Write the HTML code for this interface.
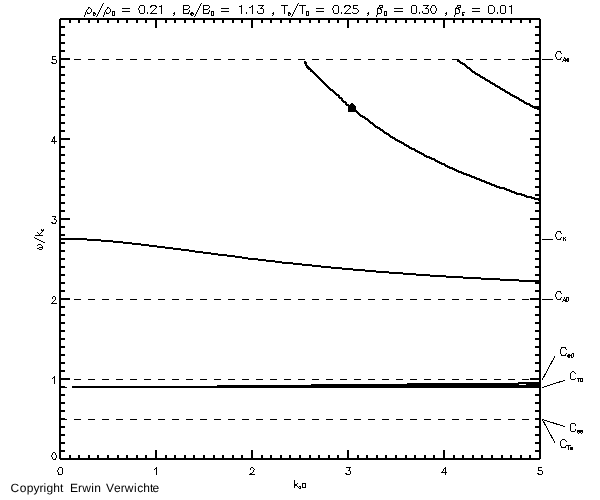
<!DOCTYPE html>
<html><head><meta charset="utf-8"><title>dispersion diagram</title>
<style>html,body{margin:0;padding:0;background:#fff;}body{width:600px;height:500px;overflow:hidden;font-family:"Liberation Sans",sans-serif;}svg{display:block;}</style></head>
<body>
<svg width="600" height="500" viewBox="0 0 600 500" shape-rendering="crispEdges">
<rect x="0" y="0" width="600" height="500" fill="#fff"/>
<g stroke="#000" stroke-width="2" fill="none" stroke-linecap="butt">
<rect x="60" y="19" width="480" height="440"/>
<line x1="60" y1="459" x2="60" y2="450"/>
<line x1="60" y1="19" x2="60" y2="28"/>
<line x1="70" y1="459" x2="70" y2="455"/>
<line x1="70" y1="19" x2="70" y2="23"/>
<line x1="79" y1="459" x2="79" y2="455"/>
<line x1="79" y1="19" x2="79" y2="23"/>
<line x1="89" y1="459" x2="89" y2="455"/>
<line x1="89" y1="19" x2="89" y2="23"/>
<line x1="98" y1="459" x2="98" y2="455"/>
<line x1="98" y1="19" x2="98" y2="23"/>
<line x1="108" y1="459" x2="108" y2="455"/>
<line x1="108" y1="19" x2="108" y2="23"/>
<line x1="118" y1="459" x2="118" y2="455"/>
<line x1="118" y1="19" x2="118" y2="23"/>
<line x1="127" y1="459" x2="127" y2="455"/>
<line x1="127" y1="19" x2="127" y2="23"/>
<line x1="137" y1="459" x2="137" y2="455"/>
<line x1="137" y1="19" x2="137" y2="23"/>
<line x1="146" y1="459" x2="146" y2="455"/>
<line x1="146" y1="19" x2="146" y2="23"/>
<line x1="156" y1="459" x2="156" y2="450"/>
<line x1="156" y1="19" x2="156" y2="28"/>
<line x1="166" y1="459" x2="166" y2="455"/>
<line x1="166" y1="19" x2="166" y2="23"/>
<line x1="175" y1="459" x2="175" y2="455"/>
<line x1="175" y1="19" x2="175" y2="23"/>
<line x1="185" y1="459" x2="185" y2="455"/>
<line x1="185" y1="19" x2="185" y2="23"/>
<line x1="194" y1="459" x2="194" y2="455"/>
<line x1="194" y1="19" x2="194" y2="23"/>
<line x1="204" y1="459" x2="204" y2="455"/>
<line x1="204" y1="19" x2="204" y2="23"/>
<line x1="214" y1="459" x2="214" y2="455"/>
<line x1="214" y1="19" x2="214" y2="23"/>
<line x1="223" y1="459" x2="223" y2="455"/>
<line x1="223" y1="19" x2="223" y2="23"/>
<line x1="233" y1="459" x2="233" y2="455"/>
<line x1="233" y1="19" x2="233" y2="23"/>
<line x1="242" y1="459" x2="242" y2="455"/>
<line x1="242" y1="19" x2="242" y2="23"/>
<line x1="252" y1="459" x2="252" y2="450"/>
<line x1="252" y1="19" x2="252" y2="28"/>
<line x1="262" y1="459" x2="262" y2="455"/>
<line x1="262" y1="19" x2="262" y2="23"/>
<line x1="271" y1="459" x2="271" y2="455"/>
<line x1="271" y1="19" x2="271" y2="23"/>
<line x1="281" y1="459" x2="281" y2="455"/>
<line x1="281" y1="19" x2="281" y2="23"/>
<line x1="290" y1="459" x2="290" y2="455"/>
<line x1="290" y1="19" x2="290" y2="23"/>
<line x1="300" y1="459" x2="300" y2="455"/>
<line x1="300" y1="19" x2="300" y2="23"/>
<line x1="310" y1="459" x2="310" y2="455"/>
<line x1="310" y1="19" x2="310" y2="23"/>
<line x1="319" y1="459" x2="319" y2="455"/>
<line x1="319" y1="19" x2="319" y2="23"/>
<line x1="329" y1="459" x2="329" y2="455"/>
<line x1="329" y1="19" x2="329" y2="23"/>
<line x1="338" y1="459" x2="338" y2="455"/>
<line x1="338" y1="19" x2="338" y2="23"/>
<line x1="348" y1="459" x2="348" y2="450"/>
<line x1="348" y1="19" x2="348" y2="28"/>
<line x1="358" y1="459" x2="358" y2="455"/>
<line x1="358" y1="19" x2="358" y2="23"/>
<line x1="367" y1="459" x2="367" y2="455"/>
<line x1="367" y1="19" x2="367" y2="23"/>
<line x1="377" y1="459" x2="377" y2="455"/>
<line x1="377" y1="19" x2="377" y2="23"/>
<line x1="386" y1="459" x2="386" y2="455"/>
<line x1="386" y1="19" x2="386" y2="23"/>
<line x1="396" y1="459" x2="396" y2="455"/>
<line x1="396" y1="19" x2="396" y2="23"/>
<line x1="406" y1="459" x2="406" y2="455"/>
<line x1="406" y1="19" x2="406" y2="23"/>
<line x1="415" y1="459" x2="415" y2="455"/>
<line x1="415" y1="19" x2="415" y2="23"/>
<line x1="425" y1="459" x2="425" y2="455"/>
<line x1="425" y1="19" x2="425" y2="23"/>
<line x1="434" y1="459" x2="434" y2="455"/>
<line x1="434" y1="19" x2="434" y2="23"/>
<line x1="444" y1="459" x2="444" y2="450"/>
<line x1="444" y1="19" x2="444" y2="28"/>
<line x1="454" y1="459" x2="454" y2="455"/>
<line x1="454" y1="19" x2="454" y2="23"/>
<line x1="463" y1="459" x2="463" y2="455"/>
<line x1="463" y1="19" x2="463" y2="23"/>
<line x1="473" y1="459" x2="473" y2="455"/>
<line x1="473" y1="19" x2="473" y2="23"/>
<line x1="482" y1="459" x2="482" y2="455"/>
<line x1="482" y1="19" x2="482" y2="23"/>
<line x1="492" y1="459" x2="492" y2="455"/>
<line x1="492" y1="19" x2="492" y2="23"/>
<line x1="502" y1="459" x2="502" y2="455"/>
<line x1="502" y1="19" x2="502" y2="23"/>
<line x1="511" y1="459" x2="511" y2="455"/>
<line x1="511" y1="19" x2="511" y2="23"/>
<line x1="521" y1="459" x2="521" y2="455"/>
<line x1="521" y1="19" x2="521" y2="23"/>
<line x1="530" y1="459" x2="530" y2="455"/>
<line x1="530" y1="19" x2="530" y2="23"/>
<line x1="540" y1="459" x2="540" y2="450"/>
<line x1="540" y1="19" x2="540" y2="28"/>
<line x1="60" y1="459" x2="70" y2="459"/>
<line x1="540" y1="459" x2="530" y2="459"/>
<line x1="60" y1="451" x2="65" y2="451"/>
<line x1="540" y1="451" x2="535" y2="451"/>
<line x1="60" y1="443" x2="65" y2="443"/>
<line x1="540" y1="443" x2="535" y2="443"/>
<line x1="60" y1="435" x2="65" y2="435"/>
<line x1="540" y1="435" x2="535" y2="435"/>
<line x1="60" y1="427" x2="65" y2="427"/>
<line x1="540" y1="427" x2="535" y2="427"/>
<line x1="60" y1="419" x2="65" y2="419"/>
<line x1="540" y1="419" x2="535" y2="419"/>
<line x1="60" y1="411" x2="65" y2="411"/>
<line x1="540" y1="411" x2="535" y2="411"/>
<line x1="60" y1="403" x2="65" y2="403"/>
<line x1="540" y1="403" x2="535" y2="403"/>
<line x1="60" y1="395" x2="65" y2="395"/>
<line x1="540" y1="395" x2="535" y2="395"/>
<line x1="60" y1="387" x2="65" y2="387"/>
<line x1="540" y1="387" x2="535" y2="387"/>
<line x1="60" y1="379" x2="70" y2="379"/>
<line x1="540" y1="379" x2="530" y2="379"/>
<line x1="60" y1="371" x2="65" y2="371"/>
<line x1="540" y1="371" x2="535" y2="371"/>
<line x1="60" y1="363" x2="65" y2="363"/>
<line x1="540" y1="363" x2="535" y2="363"/>
<line x1="60" y1="355" x2="65" y2="355"/>
<line x1="540" y1="355" x2="535" y2="355"/>
<line x1="60" y1="347" x2="65" y2="347"/>
<line x1="540" y1="347" x2="535" y2="347"/>
<line x1="60" y1="339" x2="65" y2="339"/>
<line x1="540" y1="339" x2="535" y2="339"/>
<line x1="60" y1="331" x2="65" y2="331"/>
<line x1="540" y1="331" x2="535" y2="331"/>
<line x1="60" y1="323" x2="65" y2="323"/>
<line x1="540" y1="323" x2="535" y2="323"/>
<line x1="60" y1="315" x2="65" y2="315"/>
<line x1="540" y1="315" x2="535" y2="315"/>
<line x1="60" y1="307" x2="65" y2="307"/>
<line x1="540" y1="307" x2="535" y2="307"/>
<line x1="60" y1="299" x2="70" y2="299"/>
<line x1="540" y1="299" x2="530" y2="299"/>
<line x1="60" y1="291" x2="65" y2="291"/>
<line x1="540" y1="291" x2="535" y2="291"/>
<line x1="60" y1="283" x2="65" y2="283"/>
<line x1="540" y1="283" x2="535" y2="283"/>
<line x1="60" y1="275" x2="65" y2="275"/>
<line x1="540" y1="275" x2="535" y2="275"/>
<line x1="60" y1="267" x2="65" y2="267"/>
<line x1="540" y1="267" x2="535" y2="267"/>
<line x1="60" y1="259" x2="65" y2="259"/>
<line x1="540" y1="259" x2="535" y2="259"/>
<line x1="60" y1="251" x2="65" y2="251"/>
<line x1="540" y1="251" x2="535" y2="251"/>
<line x1="60" y1="243" x2="65" y2="243"/>
<line x1="540" y1="243" x2="535" y2="243"/>
<line x1="60" y1="235" x2="65" y2="235"/>
<line x1="540" y1="235" x2="535" y2="235"/>
<line x1="60" y1="227" x2="65" y2="227"/>
<line x1="540" y1="227" x2="535" y2="227"/>
<line x1="60" y1="219" x2="70" y2="219"/>
<line x1="540" y1="219" x2="530" y2="219"/>
<line x1="60" y1="211" x2="65" y2="211"/>
<line x1="540" y1="211" x2="535" y2="211"/>
<line x1="60" y1="203" x2="65" y2="203"/>
<line x1="540" y1="203" x2="535" y2="203"/>
<line x1="60" y1="195" x2="65" y2="195"/>
<line x1="540" y1="195" x2="535" y2="195"/>
<line x1="60" y1="187" x2="65" y2="187"/>
<line x1="540" y1="187" x2="535" y2="187"/>
<line x1="60" y1="179" x2="65" y2="179"/>
<line x1="540" y1="179" x2="535" y2="179"/>
<line x1="60" y1="171" x2="65" y2="171"/>
<line x1="540" y1="171" x2="535" y2="171"/>
<line x1="60" y1="163" x2="65" y2="163"/>
<line x1="540" y1="163" x2="535" y2="163"/>
<line x1="60" y1="155" x2="65" y2="155"/>
<line x1="540" y1="155" x2="535" y2="155"/>
<line x1="60" y1="147" x2="65" y2="147"/>
<line x1="540" y1="147" x2="535" y2="147"/>
<line x1="60" y1="139" x2="70" y2="139"/>
<line x1="540" y1="139" x2="530" y2="139"/>
<line x1="60" y1="131" x2="65" y2="131"/>
<line x1="540" y1="131" x2="535" y2="131"/>
<line x1="60" y1="123" x2="65" y2="123"/>
<line x1="540" y1="123" x2="535" y2="123"/>
<line x1="60" y1="115" x2="65" y2="115"/>
<line x1="540" y1="115" x2="535" y2="115"/>
<line x1="60" y1="107" x2="65" y2="107"/>
<line x1="540" y1="107" x2="535" y2="107"/>
<line x1="60" y1="99" x2="65" y2="99"/>
<line x1="540" y1="99" x2="535" y2="99"/>
<line x1="60" y1="91" x2="65" y2="91"/>
<line x1="540" y1="91" x2="535" y2="91"/>
<line x1="60" y1="83" x2="65" y2="83"/>
<line x1="540" y1="83" x2="535" y2="83"/>
<line x1="60" y1="75" x2="65" y2="75"/>
<line x1="540" y1="75" x2="535" y2="75"/>
<line x1="60" y1="67" x2="65" y2="67"/>
<line x1="540" y1="67" x2="535" y2="67"/>
<line x1="60" y1="59" x2="70" y2="59"/>
<line x1="540" y1="59" x2="530" y2="59"/>
<line x1="60" y1="51" x2="65" y2="51"/>
<line x1="540" y1="51" x2="535" y2="51"/>
<line x1="60" y1="43" x2="65" y2="43"/>
<line x1="540" y1="43" x2="535" y2="43"/>
<line x1="60" y1="35" x2="65" y2="35"/>
<line x1="540" y1="35" x2="535" y2="35"/>
<line x1="60" y1="27" x2="65" y2="27"/>
<line x1="540" y1="27" x2="535" y2="27"/>
</g>
<g stroke="#000" stroke-width="1" fill="none" stroke-dasharray="7 7">
<line x1="60" y1="59.5" x2="540" y2="59.5"/>
<line x1="60" y1="299.5" x2="540" y2="299.5"/>
<line x1="60" y1="379.5" x2="540" y2="379.5"/>
<line x1="60" y1="419.5" x2="540" y2="419.5"/>
</g>
<path fill="#000" stroke="none" d="M457 59h2v1h-2zM457 60h3v1h-3zM304 61h2v1h-2zM457 61h4v1h-4zM304 62h3v1h-3zM459 62h4v1h-4zM304 63h3v1h-3zM460 63h5v1h-5zM305 64h2v1h-2zM462 64h4v1h-4zM305 65h3v1h-3zM464 65h3v1h-3zM306 66h3v1h-3zM465 66h3v1h-3zM306 67h4v1h-4zM466 67h4v1h-4zM307 68h4v1h-4zM467 68h4v1h-4zM308 69h4v1h-4zM469 69h3v1h-3zM310 70h3v1h-3zM470 70h3v1h-3zM310 71h4v1h-4zM471 71h4v1h-4zM312 72h3v1h-3zM472 72h4v1h-4zM313 73h3v1h-3zM474 73h4v1h-4zM314 74h3v1h-3zM475 74h5v1h-5zM315 75h3v1h-3zM477 75h4v1h-4zM316 76h3v1h-3zM479 76h4v1h-4zM317 77h3v1h-3zM480 77h5v1h-5zM318 78h3v1h-3zM482 78h4v1h-4zM319 79h3v1h-3zM484 79h4v1h-4zM320 80h3v1h-3zM485 80h5v1h-5zM321 81h3v1h-3zM487 81h4v1h-4zM322 82h3v1h-3zM489 82h4v1h-4zM323 83h3v1h-3zM490 83h5v1h-5zM324 84h3v1h-3zM492 84h4v1h-4zM325 85h3v1h-3zM494 85h4v1h-4zM326 86h3v1h-3zM495 86h5v1h-5zM327 87h3v1h-3zM497 87h4v1h-4zM328 88h3v1h-3zM499 88h4v1h-4zM329 89h4v1h-4zM500 89h5v1h-5zM330 90h4v1h-4zM502 90h4v1h-4zM332 91h3v1h-3zM504 91h4v1h-4zM333 92h3v1h-3zM505 92h5v1h-5zM334 93h3v1h-3zM507 93h4v1h-4zM335 94h4v1h-4zM509 94h4v1h-4zM336 95h4v1h-4zM510 95h5v1h-5zM338 96h2v1h-2zM512 96h5v1h-5zM338 97h4v1h-4zM514 97h5v1h-5zM339 98h4v1h-4zM516 98h4v1h-4zM341 99h2v1h-2zM518 99h4v1h-4zM341 100h3v1h-3zM519 100h5v1h-5zM342 101h4v1h-4zM521 101h4v1h-4zM343 102h4v1h-4zM523 102h4v1h-4zM345 103h2v1h-2zM524 103h6v1h-6zM345 104h4v1h-4zM526 104h5v1h-5zM346 105h4v1h-4zM529 105h4v1h-4zM348 106h3v1h-3zM530 106h5v1h-5zM349 107h3v1h-3zM532 107h6v1h-6zM350 108h4v1h-4zM534 108h7v1h-7zM351 109h4v1h-4zM537 109h4v1h-4zM353 110h4v1h-4zM354 111h4v1h-4zM356 112h3v1h-3zM357 113h3v1h-3zM358 114h3v1h-3zM359 115h4v1h-4zM360 116h5v1h-5zM362 117h4v1h-4zM364 118h4v1h-4zM365 119h4v1h-4zM367 120h3v1h-3zM368 121h3v1h-3zM369 122h4v1h-4zM370 123h4v1h-4zM372 124h3v1h-3zM373 125h3v1h-3zM374 126h4v1h-4zM375 127h5v1h-5zM377 128h4v1h-4zM379 129h4v1h-4zM380 130h4v1h-4zM382 131h3v1h-3zM383 132h4v1h-4zM384 133h5v1h-5zM386 134h4v1h-4zM388 135h3v1h-3zM389 136h4v1h-4zM390 137h5v1h-5zM392 138h4v1h-4zM394 139h4v1h-4zM395 140h5v1h-5zM397 141h5v1h-5zM399 142h5v1h-5zM401 143h4v1h-4zM403 144h4v1h-4zM404 145h5v1h-5zM406 146h4v1h-4zM408 147h4v1h-4zM409 148h6v1h-6zM411 149h5v1h-5zM414 150h4v1h-4zM415 151h5v1h-5zM417 152h5v1h-5zM419 153h5v1h-5zM421 154h4v1h-4zM423 155h4v1h-4zM424 156h6v1h-6zM426 157h6v1h-6zM429 158h6v1h-6zM431 159h5v1h-5zM434 160h4v1h-4zM435 161h5v1h-5zM437 162h5v1h-5zM439 163h6v1h-6zM441 164h5v1h-5zM444 165h4v1h-4zM445 166h5v1h-5zM447 167h6v1h-6zM449 168h6v1h-6zM452 169h5v1h-5zM454 170h5v1h-5zM456 171h6v1h-6zM458 172h6v1h-6zM461 173h6v1h-6zM463 174h7v1h-7zM466 175h6v1h-6zM469 176h6v1h-6zM471 177h6v1h-6zM474 178h6v1h-6zM476 179h6v1h-6zM479 180h6v1h-6zM481 181h6v1h-6zM484 182h6v1h-6zM486 183h6v1h-6zM489 184h6v1h-6zM491 185h6v1h-6zM494 186h6v1h-6zM496 187h9v1h-9zM499 188h8v1h-8zM504 189h6v1h-6zM506 190h6v1h-6zM509 191h6v1h-6zM511 192h6v1h-6zM514 193h8v1h-8zM516 194h9v1h-9zM521 195h6v1h-6zM524 196h8v1h-8zM526 197h9v1h-9zM531 198h8v1h-8zM534 199h7v1h-7zM538 200h3v1h-3zM59 238h28v1h-28zM59 239h42v1h-42zM87 240h26v1h-26zM101 241h22v1h-22zM113 242h19v1h-19zM123 243h18v1h-18zM132 244h17v1h-17zM141 245h16v1h-16zM149 246h16v1h-16zM157 247h16v1h-16zM165 248h16v1h-16zM173 249h16v1h-16zM181 250h14v1h-14zM189 251h14v1h-14zM195 252h16v1h-16zM203 253h15v1h-15zM211 254h16v1h-16zM218 255h17v1h-17zM227 256h15v1h-15zM235 257h13v1h-13zM242 258h16v1h-16zM248 259h18v1h-18zM258 260h17v1h-17zM266 261h16v1h-16zM275 262h18v1h-18zM282 263h20v1h-20zM293 264h19v1h-19zM302 265h19v1h-19zM312 266h19v1h-19zM321 267h21v1h-21zM331 268h22v1h-22zM342 269h23v1h-23zM353 270h23v1h-23zM365 271h24v1h-24zM376 272h27v1h-27zM389 273h27v1h-27zM403 274h27v1h-27zM416 275h30v1h-30zM430 276h33v1h-33zM446 277h35v1h-35zM463 278h37v1h-37zM481 279h38v1h-38zM500 280h41v1h-41zM519 281h22v1h-22z"/>
<g fill="#000" stroke="none">
<rect x="72" y="386" width="468" height="2"/>
<rect x="217" y="385" width="323" height="1"/>
<rect x="311" y="384" width="229" height="1"/>
<rect x="407" y="383" width="133" height="1"/>
<rect x="518" y="382" width="22" height="1"/>
<rect x="65" y="387" width="2" height="1"/>
<polygon points="348,112 348,107 351,103.6 352,103 353,103 356,106.4 356,112"/>
</g>
<rect x="519" y="384" width="7" height="1" fill="#fff"/>
<rect x="59" y="18" width="1" height="1" fill="#fff"/>
<rect x="540" y="459" width="1" height="1" fill="#fff"/>
<rect x="540" y="18" width="1" height="1" fill="#fff"/>
<rect x="59" y="459" width="1" height="1" fill="#fff"/>
<g stroke="#000" stroke-width="1" fill="none">
<line x1="542" y1="59.5" x2="553" y2="59.5"/>
<line x1="542" y1="239.5" x2="553" y2="239.5"/>
<line x1="542" y1="299.5" x2="553" y2="299.5"/>
<line x1="542.3" y1="379.6" x2="555" y2="356"/>
<line x1="542.3" y1="387.5" x2="565.2" y2="380.2"/>
<line x1="542.3" y1="419.4" x2="565.2" y2="426.8"/>
<line x1="542.3" y1="419.4" x2="555" y2="443"/>
</g>
<path fill="#000" stroke="none" d="M103 3h1v1h-1zM201 3h1v1h-1zM298 3h1v1h-1zM102 4h1v1h-1zM200 4h1v1h-1zM297 4h1v1h-1zM102 5h1v1h-1zM140 5h4v1h-4zM151 5h5v1h-5zM161 5h1v1h-1zM183 5h6v1h-6zM200 5h1v1h-1zM203 5h6v1h-6zM241 5h1v1h-1zM252 5h1v1h-1zM258 5h6v1h-6zM281 5h7v1h-7zM297 5h1v1h-1zM299 5h7v1h-7zM334 5h4v1h-4zM345 5h5v1h-5zM353 5h5v1h-5zM379 5h4v1h-4zM412 5h4v1h-4zM423 5h6v1h-6zM432 5h3v1h-3zM457 5h4v1h-4zM489 5h4v1h-4zM501 5h4v1h-4zM511 5h1v1h-1zM101 6h1v1h-1zM139 6h1v1h-1zM144 6h1v1h-1zM150 6h2v1h-2zM155 6h2v1h-2zM159 6h3v1h-3zM183 6h1v1h-1zM189 6h1v1h-1zM199 6h1v1h-1zM203 6h1v1h-1zM209 6h1v1h-1zM239 6h3v1h-3zM251 6h2v1h-2zM262 6h1v1h-1zM284 6h1v1h-1zM296 6h1v1h-1zM302 6h1v1h-1zM333 6h1v1h-1zM338 6h1v1h-1zM344 6h2v1h-2zM349 6h2v1h-2zM353 6h1v1h-1zM379 6h1v1h-1zM382 6h1v1h-1zM411 6h1v1h-1zM416 6h1v1h-1zM427 6h1v1h-1zM431 6h1v1h-1zM435 6h1v1h-1zM457 6h1v1h-1zM460 6h1v1h-1zM488 6h1v1h-1zM493 6h1v1h-1zM500 6h1v1h-1zM505 6h1v1h-1zM509 6h3v1h-3zM88 7h2v1h-2zM101 7h1v1h-1zM107 7h2v1h-2zM139 7h1v1h-1zM144 7h1v1h-1zM150 7h1v1h-1zM156 7h1v1h-1zM161 7h1v1h-1zM183 7h1v1h-1zM189 7h1v1h-1zM199 7h1v1h-1zM203 7h1v1h-1zM209 7h1v1h-1zM241 7h1v1h-1zM249 7h2v1h-2zM252 7h1v1h-1zM261 7h1v1h-1zM284 7h1v1h-1zM296 7h1v1h-1zM302 7h1v1h-1zM333 7h1v1h-1zM338 7h1v1h-1zM344 7h1v1h-1zM350 7h1v1h-1zM353 7h1v1h-1zM378 7h1v1h-1zM380 7h3v1h-3zM411 7h1v1h-1zM416 7h1v1h-1zM426 7h1v1h-1zM431 7h1v1h-1zM435 7h1v1h-1zM456 7h1v1h-1zM458 7h3v1h-3zM488 7h1v1h-1zM494 7h1v1h-1zM500 7h1v1h-1zM505 7h1v1h-1zM511 7h1v1h-1zM88 8h1v1h-1zM90 8h1v1h-1zM100 8h1v1h-1zM107 8h1v1h-1zM109 8h1v1h-1zM122 8h8v1h-8zM138 8h1v1h-1zM144 8h1v1h-1zM155 8h1v1h-1zM161 8h1v1h-1zM183 8h1v1h-1zM188 8h1v1h-1zM198 8h1v1h-1zM203 8h1v1h-1zM208 8h1v1h-1zM221 8h8v1h-8zM241 8h1v1h-1zM252 8h1v1h-1zM260 8h3v1h-3zM284 8h1v1h-1zM295 8h1v1h-1zM302 8h1v1h-1zM316 8h8v1h-8zM332 8h1v1h-1zM338 8h1v1h-1zM349 8h1v1h-1zM353 8h4v1h-4zM377 8h4v1h-4zM394 8h9v1h-9zM411 8h1v1h-1zM416 8h1v1h-1zM425 8h3v1h-3zM430 8h1v1h-1zM436 8h1v1h-1zM455 8h4v1h-4zM472 8h8v1h-8zM488 8h1v1h-1zM494 8h1v1h-1zM500 8h1v1h-1zM505 8h1v1h-1zM511 8h1v1h-1zM87 9h1v1h-1zM91 9h1v1h-1zM100 9h1v1h-1zM106 9h1v1h-1zM110 9h1v1h-1zM138 9h1v1h-1zM144 9h1v1h-1zM154 9h1v1h-1zM161 9h1v1h-1zM183 9h5v1h-5zM198 9h1v1h-1zM203 9h5v1h-5zM241 9h1v1h-1zM252 9h1v1h-1zM263 9h1v1h-1zM284 9h1v1h-1zM295 9h1v1h-1zM302 9h1v1h-1zM332 9h1v1h-1zM338 9h1v1h-1zM348 9h1v1h-1zM357 9h1v1h-1zM377 9h1v1h-1zM380 9h2v1h-2zM411 9h1v1h-1zM416 9h1v1h-1zM428 9h1v1h-1zM430 9h1v1h-1zM436 9h1v1h-1zM455 9h1v1h-1zM458 9h2v1h-2zM488 9h1v1h-1zM494 9h1v1h-1zM500 9h1v1h-1zM505 9h1v1h-1zM511 9h1v1h-1zM86 10h1v1h-1zM91 10h1v1h-1zM99 10h1v1h-1zM105 10h1v1h-1zM110 10h1v1h-1zM139 10h1v1h-1zM144 10h1v1h-1zM153 10h1v1h-1zM161 10h1v1h-1zM183 10h1v1h-1zM189 10h1v1h-1zM197 10h1v1h-1zM203 10h1v1h-1zM209 10h1v1h-1zM241 10h1v1h-1zM252 10h1v1h-1zM263 10h1v1h-1zM284 10h1v1h-1zM294 10h1v1h-1zM302 10h1v1h-1zM333 10h1v1h-1zM338 10h1v1h-1zM347 10h1v1h-1zM358 10h1v1h-1zM377 10h1v1h-1zM381 10h1v1h-1zM411 10h1v1h-1zM416 10h1v1h-1zM428 10h1v1h-1zM430 10h1v1h-1zM436 10h1v1h-1zM455 10h1v1h-1zM459 10h1v1h-1zM488 10h1v1h-1zM494 10h1v1h-1zM500 10h1v1h-1zM505 10h1v1h-1zM511 10h1v1h-1zM86 11h1v1h-1zM91 11h1v1h-1zM99 11h1v1h-1zM105 11h1v1h-1zM110 11h1v1h-1zM112 11h3v1h-3zM122 11h8v1h-8zM139 11h1v1h-1zM144 11h1v1h-1zM152 11h1v1h-1zM161 11h1v1h-1zM183 11h1v1h-1zM189 11h1v1h-1zM197 11h1v1h-1zM203 11h1v1h-1zM209 11h1v1h-1zM211 11h3v1h-3zM221 11h8v1h-8zM241 11h1v1h-1zM252 11h1v1h-1zM257 11h1v1h-1zM263 11h1v1h-1zM284 11h1v1h-1zM294 11h1v1h-1zM302 11h1v1h-1zM306 11h3v1h-3zM316 11h8v1h-8zM333 11h1v1h-1zM338 11h1v1h-1zM346 11h1v1h-1zM358 11h1v1h-1zM377 11h1v1h-1zM381 11h1v1h-1zM384 11h3v1h-3zM394 11h9v1h-9zM411 11h1v1h-1zM416 11h1v1h-1zM422 11h1v1h-1zM428 11h1v1h-1zM431 11h1v1h-1zM435 11h1v1h-1zM455 11h1v1h-1zM459 11h1v1h-1zM472 11h8v1h-8zM488 11h1v1h-1zM494 11h1v1h-1zM500 11h1v1h-1zM505 11h1v1h-1zM511 11h1v1h-1zM85 12h1v1h-1zM87 12h1v1h-1zM90 12h1v1h-1zM93 12h2v1h-2zM98 12h1v1h-1zM104 12h1v1h-1zM106 12h1v1h-1zM109 12h1v1h-1zM112 12h1v1h-1zM114 12h1v1h-1zM139 12h1v1h-1zM144 12h1v1h-1zM147 12h1v1h-1zM151 12h1v1h-1zM161 12h1v1h-1zM174 12h1v1h-1zM183 12h1v1h-1zM188 12h1v1h-1zM191 12h2v1h-2zM196 12h1v1h-1zM203 12h1v1h-1zM208 12h1v1h-1zM211 12h1v1h-1zM213 12h1v1h-1zM241 12h1v1h-1zM246 12h1v1h-1zM252 12h1v1h-1zM257 12h1v1h-1zM263 12h1v1h-1zM273 12h1v1h-1zM284 12h1v1h-1zM288 12h2v1h-2zM293 12h1v1h-1zM302 12h1v1h-1zM306 12h1v1h-1zM308 12h1v1h-1zM333 12h1v1h-1zM338 12h1v1h-1zM341 12h1v1h-1zM345 12h1v1h-1zM352 12h1v1h-1zM357 12h1v1h-1zM368 12h1v1h-1zM377 12h1v1h-1zM381 12h1v1h-1zM384 12h1v1h-1zM386 12h1v1h-1zM411 12h1v1h-1zM416 12h1v1h-1zM419 12h1v1h-1zM422 12h1v1h-1zM428 12h1v1h-1zM431 12h1v1h-1zM435 12h1v1h-1zM446 12h1v1h-1zM455 12h1v1h-1zM459 12h1v1h-1zM462 12h3v1h-3zM488 12h1v1h-1zM493 12h1v1h-1zM497 12h1v1h-1zM500 12h1v1h-1zM505 12h1v1h-1zM511 12h1v1h-1zM85 13h1v1h-1zM87 13h3v1h-3zM93 13h3v1h-3zM98 13h1v1h-1zM104 13h1v1h-1zM106 13h3v1h-3zM112 13h1v1h-1zM114 13h1v1h-1zM140 13h4v1h-4zM147 13h1v1h-1zM150 13h7v1h-7zM161 13h1v1h-1zM173 13h2v1h-2zM183 13h6v1h-6zM190 13h4v1h-4zM196 13h1v1h-1zM203 13h6v1h-6zM211 13h1v1h-1zM213 13h1v1h-1zM241 13h1v1h-1zM246 13h1v1h-1zM252 13h1v1h-1zM258 13h5v1h-5zM272 13h2v1h-2zM284 13h1v1h-1zM288 13h3v1h-3zM293 13h1v1h-1zM302 13h1v1h-1zM306 13h1v1h-1zM308 13h1v1h-1zM334 13h4v1h-4zM341 13h1v1h-1zM344 13h7v1h-7zM353 13h4v1h-4zM367 13h2v1h-2zM377 13h4v1h-4zM384 13h1v1h-1zM386 13h1v1h-1zM412 13h4v1h-4zM419 13h1v1h-1zM423 13h5v1h-5zM432 13h3v1h-3zM445 13h2v1h-2zM455 13h4v1h-4zM462 13h1v1h-1zM489 13h4v1h-4zM497 13h1v1h-1zM501 13h4v1h-4zM511 13h1v1h-1zM85 14h1v1h-1zM93 14h1v1h-1zM95 14h1v1h-1zM97 14h1v1h-1zM104 14h1v1h-1zM112 14h1v1h-1zM114 14h1v1h-1zM174 14h1v1h-1zM190 14h2v1h-2zM193 14h1v1h-1zM195 14h1v1h-1zM211 14h1v1h-1zM213 14h1v1h-1zM273 14h1v1h-1zM288 14h1v1h-1zM290 14h1v1h-1zM292 14h1v1h-1zM306 14h1v1h-1zM308 14h1v1h-1zM368 14h1v1h-1zM377 14h1v1h-1zM384 14h1v1h-1zM386 14h1v1h-1zM446 14h1v1h-1zM455 14h1v1h-1zM462 14h2v1h-2zM84 15h1v1h-1zM93 15h2v1h-2zM97 15h1v1h-1zM103 15h1v1h-1zM112 15h3v1h-3zM173 15h1v1h-1zM191 15h2v1h-2zM195 15h1v1h-1zM211 15h3v1h-3zM272 15h1v1h-1zM288 15h2v1h-2zM292 15h1v1h-1zM306 15h3v1h-3zM367 15h1v1h-1zM376 15h1v1h-1zM384 15h3v1h-3zM445 15h1v1h-1zM454 15h1v1h-1zM462 15h2v1h-2zM84 16h1v1h-1zM96 16h1v1h-1zM103 16h1v1h-1zM194 16h1v1h-1zM291 16h1v1h-1zM376 16h1v1h-1zM454 16h1v1h-1zM557 51h4v1h-4zM556 52h1v1h-1zM560 52h1v1h-1zM556 53h1v1h-1zM561 53h1v1h-1zM555 54h1v1h-1zM555 55h1v1h-1zM52 56h4v1h-4zM555 56h1v1h-1zM52 57h1v1h-1zM556 57h1v1h-1zM561 57h1v1h-1zM564 57h1v1h-1zM52 58h1v1h-1zM556 58h1v1h-1zM560 58h1v1h-1zM564 58h2v1h-2zM567 58h2v1h-2zM52 59h4v1h-4zM557 59h4v1h-4zM563 59h1v1h-1zM565 59h4v1h-4zM56 60h1v1h-1zM563 60h6v1h-6zM56 61h1v1h-1zM562 61h1v1h-1zM565 61h1v1h-1zM567 61h2v1h-2zM51 62h2v1h-2zM56 62h1v1h-1zM52 63h4v1h-4zM54 136h1v1h-1zM53 137h2v1h-2zM53 138h2v1h-2zM52 139h1v1h-1zM54 139h1v1h-1zM52 140h1v1h-1zM54 140h1v1h-1zM51 141h6v1h-6zM54 142h1v1h-1zM54 143h1v1h-1zM52 216h4v1h-4zM55 217h1v1h-1zM54 218h1v1h-1zM54 219h2v1h-2zM56 220h1v1h-1zM56 221h1v1h-1zM51 222h2v1h-2zM55 222h1v1h-1zM52 223h4v1h-4zM41 229h1v1h-1zM43 229h1v1h-1zM41 230h3v1h-3zM42 231h1v1h-1zM557 231h4v1h-4zM37 232h1v1h-1zM41 232h1v1h-1zM556 232h1v1h-1zM560 232h1v1h-1zM38 233h1v1h-1zM40 233h1v1h-1zM556 233h1v1h-1zM561 233h1v1h-1zM39 234h1v1h-1zM555 234h1v1h-1zM35 235h8v1h-8zM555 235h1v1h-1zM555 236h1v1h-1zM34 237h1v1h-1zM556 237h1v1h-1zM561 237h1v1h-1zM563 237h1v1h-1zM565 237h1v1h-1zM35 238h2v1h-2zM556 238h1v1h-1zM560 238h1v1h-1zM563 238h2v1h-2zM37 239h2v1h-2zM557 239h4v1h-4zM563 239h1v1h-1zM565 239h1v1h-1zM39 240h2v1h-2zM563 240h1v1h-1zM565 240h1v1h-1zM41 241h2v1h-2zM43 242h2v1h-2zM38 244h3v1h-3zM37 245h1v1h-1zM41 245h1v1h-1zM42 246h1v1h-1zM39 247h4v1h-4zM37 248h2v1h-2zM42 248h1v1h-1zM39 249h3v1h-3zM557 291h4v1h-4zM556 292h1v1h-1zM560 292h1v1h-1zM556 293h1v1h-1zM561 293h1v1h-1zM555 294h1v1h-1zM555 295h1v1h-1zM53 296h2v1h-2zM555 296h1v1h-1zM52 297h1v1h-1zM55 297h1v1h-1zM556 297h1v1h-1zM561 297h1v1h-1zM564 297h1v1h-1zM566 297h3v1h-3zM52 298h1v1h-1zM55 298h1v1h-1zM556 298h1v1h-1zM560 298h1v1h-1zM564 298h1v1h-1zM566 298h1v1h-1zM568 298h1v1h-1zM55 299h1v1h-1zM557 299h4v1h-4zM563 299h1v1h-1zM565 299h2v1h-2zM568 299h1v1h-1zM54 300h1v1h-1zM563 300h4v1h-4zM568 300h1v1h-1zM53 301h1v1h-1zM562 301h1v1h-1zM565 301h3v1h-3zM52 302h1v1h-1zM51 303h6v1h-6zM561 347h5v1h-5zM561 348h1v1h-1zM565 348h1v1h-1zM560 349h1v1h-1zM566 349h1v1h-1zM560 350h1v1h-1zM560 351h1v1h-1zM560 352h1v1h-1zM560 353h1v1h-1zM566 353h1v1h-1zM572 353h2v1h-2zM561 354h1v1h-1zM565 354h1v1h-1zM568 354h2v1h-2zM571 354h1v1h-1zM573 354h1v1h-1zM561 355h5v1h-5zM567 355h5v1h-5zM573 355h1v1h-1zM567 356h3v1h-3zM571 356h1v1h-1zM573 356h1v1h-1zM568 357h2v1h-2zM571 357h2v1h-2zM572 371h2v1h-2zM571 372h1v1h-1zM574 372h1v1h-1zM570 373h1v1h-1zM575 373h1v1h-1zM570 374h1v1h-1zM570 375h1v1h-1zM54 376h1v1h-1zM570 376h1v1h-1zM53 377h2v1h-2zM570 377h1v1h-1zM52 378h1v1h-1zM54 378h1v1h-1zM570 378h1v1h-1zM575 378h1v1h-1zM577 378h6v1h-6zM54 379h1v1h-1zM571 379h4v1h-4zM578 379h1v1h-1zM580 379h1v1h-1zM582 379h1v1h-1zM54 380h1v1h-1zM578 380h1v1h-1zM580 380h1v1h-1zM582 380h1v1h-1zM54 381h1v1h-1zM578 381h1v1h-1zM580 381h3v1h-3zM54 382h1v1h-1zM54 383h1v1h-1zM571 423h4v1h-4zM570 424h1v1h-1zM575 424h1v1h-1zM570 425h1v1h-1zM575 425h1v1h-1zM570 426h1v1h-1zM570 427h1v1h-1zM570 428h1v1h-1zM570 429h1v1h-1zM575 429h1v1h-1zM570 430h1v1h-1zM575 430h1v1h-1zM577 430h6v1h-6zM571 431h4v1h-4zM577 431h6v1h-6zM577 432h1v1h-1zM579 432h2v1h-2zM582 432h1v1h-1zM578 433h1v1h-1zM581 433h1v1h-1zM562 439h3v1h-3zM561 440h1v1h-1zM565 440h1v1h-1zM560 441h1v1h-1zM566 441h1v1h-1zM560 442h1v1h-1zM560 443h1v1h-1zM560 444h1v1h-1zM560 445h1v1h-1zM566 445h5v1h-5zM561 446h1v1h-1zM565 446h1v1h-1zM568 446h1v1h-1zM561 447h5v1h-5zM568 447h1v1h-1zM570 447h3v1h-3zM568 448h1v1h-1zM570 448h3v1h-3zM568 449h1v1h-1zM570 449h3v1h-3zM53 452h2v1h-2zM52 453h1v1h-1zM55 453h1v1h-1zM52 454h1v1h-1zM55 454h1v1h-1zM51 455h1v1h-1zM56 455h1v1h-1zM51 456h1v1h-1zM56 456h1v1h-1zM52 457h1v1h-1zM56 457h1v1h-1zM52 458h1v1h-1zM55 458h1v1h-1zM53 459h3v1h-3zM59 467h3v1h-3zM156 467h1v1h-1zM251 467h2v1h-2zM346 467h5v1h-5zM445 467h1v1h-1zM538 467h4v1h-4zM58 468h1v1h-1zM62 468h1v1h-1zM155 468h2v1h-2zM250 468h1v1h-1zM253 468h1v1h-1zM349 468h1v1h-1zM444 468h2v1h-2zM538 468h1v1h-1zM58 469h1v1h-1zM62 469h1v1h-1zM154 469h1v1h-1zM156 469h1v1h-1zM250 469h1v1h-1zM254 469h1v1h-1zM349 469h1v1h-1zM443 469h1v1h-1zM445 469h1v1h-1zM538 469h1v1h-1zM57 470h1v1h-1zM62 470h1v1h-1zM156 470h1v1h-1zM253 470h1v1h-1zM348 470h2v1h-2zM443 470h1v1h-1zM445 470h1v1h-1zM538 470h4v1h-4zM57 471h1v1h-1zM62 471h1v1h-1zM156 471h1v1h-1zM253 471h1v1h-1zM350 471h1v1h-1zM442 471h1v1h-1zM445 471h1v1h-1zM542 471h1v1h-1zM58 472h1v1h-1zM62 472h1v1h-1zM156 472h1v1h-1zM252 472h1v1h-1zM350 472h1v1h-1zM441 472h6v1h-6zM542 472h1v1h-1zM58 473h1v1h-1zM62 473h1v1h-1zM156 473h1v1h-1zM250 473h2v1h-2zM345 473h2v1h-2zM350 473h1v1h-1zM445 473h1v1h-1zM537 473h2v1h-2zM542 473h1v1h-1zM58 474h4v1h-4zM156 474h1v1h-1zM249 474h6v1h-6zM346 474h4v1h-4zM445 474h1v1h-1zM538 474h4v1h-4zM294 480h1v1h-1zM294 481h1v1h-1zM294 482h1v1h-1zM294 483h1v1h-1zM297 483h1v1h-1zM302 483h4v1h-4zM294 484h3v1h-3zM302 484h1v1h-1zM305 484h1v1h-1zM294 485h3v1h-3zM302 485h1v1h-1zM305 485h1v1h-1zM294 486h1v1h-1zM297 486h1v1h-1zM299 486h2v1h-2zM302 486h1v1h-1zM305 486h1v1h-1zM294 487h1v1h-1zM298 487h1v1h-1zM300 487h1v1h-1zM302 487h4v1h-4zM299 488h2v1h-2z"/>
<g font-family="'Liberation Sans', sans-serif" font-size="12px" fill="#000" text-rendering="geometricPrecision" shape-rendering="auto" style="filter:grayscale(1)">
<text y="492" x="10.4 19.8 26.8 33.5 39.6 43.6 46.5 53.3 60">Copyright</text>
<text y="492" x="70 78.1 82.3 91.3 94.2">Erwin</text>
<text y="492" x="106 114 120.8 124.8 134.1 137.2 143.2 149.9 152.6">Verwichte</text>
</g>
</svg>
</body></html>
